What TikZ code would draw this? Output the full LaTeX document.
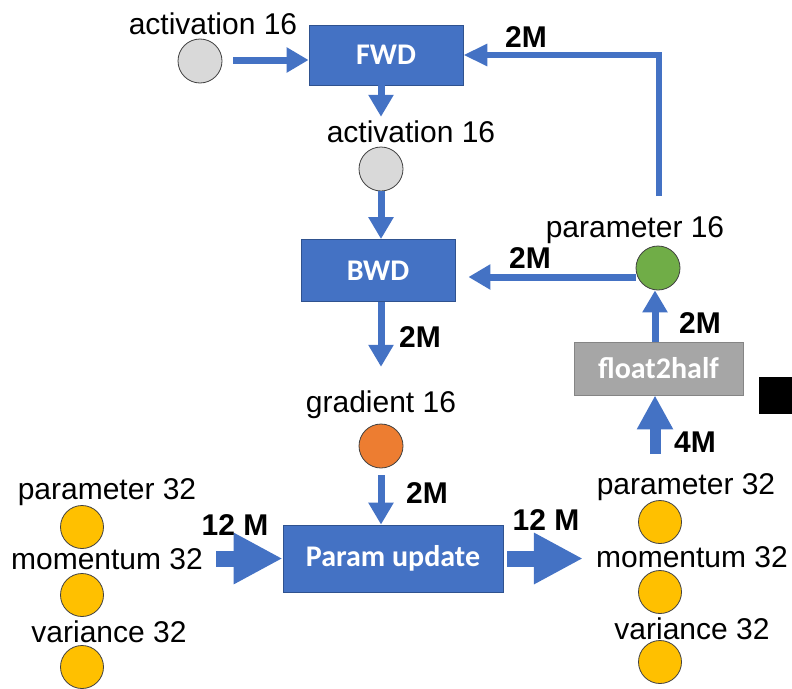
\documentclass[tikz,border=0pt]{standalone}
\usepackage{fontspec}
\setmainfont{Liberation Sans}
\newfontfamily\boxfont{Carlito}
\usetikzlibrary{arrows.meta}
\definecolor{flowblue}{HTML}{4472C4}
\definecolor{boxedge}{HTML}{2F528F}
\definecolor{halfgray}{HTML}{A6A6A6}
\definecolor{actgray}{HTML}{D9D9D9}
\definecolor{paramgreen}{HTML}{70AD47}
\definecolor{gradorange}{HTML}{ED7D31}
\definecolor{stateyellow}{HTML}{FFC000}
\begin{document}
\begin{tikzpicture}[x=1pt,y=-1pt,
  proc/.style={draw=boxedge, line width=0.8pt, fill=flowblue, text=white,
    font=\boxfont\bfseries\fontsize{30}{31}\selectfont, inner sep=0},
  castbox/.style={proc, draw=halfgray!80!black, fill=halfgray},
  tensor/.style={circle, draw=black!75, line width=0.8pt, minimum size=44pt, inner sep=0},
  statedot/.style={tensor, fill=stateyellow, minimum size=43pt},
  lbl/.style={font=\fontsize{30}{31}\selectfont, inner sep=0},
  qty/.style={font=\bfseries\fontsize{30}{31}\selectfont, inner sep=0},
  flow/.style={draw=flowblue, line width=7pt, -{Triangle[width=24pt,length=22pt]}},
  thinflow/.style={draw=flowblue, line width=6.5pt, -{Triangle[width=21pt,length=24pt]}},
  midflow/.style={draw=flowblue, line width=11pt, -{Triangle[width=34pt,length=34pt]}},
  bigflow/.style={draw=flowblue, line width=16pt, -{Triangle[width=48pt,length=49pt]}}]
\useasboundingbox (0,0) rectangle (792,688);

% compute blocks
\node[proc, minimum width=154pt, minimum height=60pt] (fwd) at (386,55) {FWD};
\node[proc, minimum width=154pt, minimum height=62pt] (bwd) at (378,270.5) {BWD};
\node[proc, minimum width=220pt, minimum height=67pt] (upd) at (393,558.5) {Param update};
\node[castbox, minimum width=169pt, minimum height=53pt] (f2h) at (658.5,368.5) {float2half};

% fp16 tensors
\node[tensor, fill=actgray] (act0) at (200,61) {};
\node[lbl] (act0lbl) at (213,24) {activation 16};
\node[tensor, fill=actgray] (act1) at (381,169) {};
\node[lbl] (act1lbl) at (411,132) {activation 16};
\node[tensor, fill=gradorange] (grad) at (381,446) {};
\node[lbl] (gradlbl) at (381,405) {gradient 16};
\node[tensor, fill=paramgreen] (p16) at (658,268) {};
\node[lbl] (p16lbl) at (635,230) {parameter 16};

% fp32 optimizer state, input side
\node[statedot] (p32a) at (82,527) {};
\node[lbl] (p32albl) at (107,492) {parameter 32};
\node[statedot] (m32a) at (82,595) {};
\node[lbl] (m32albl) at (107,559) {momentum 32};
\node[statedot] (v32a) at (82,667) {};
\node[lbl] (v32albl) at (109,632) {variance 32};

% fp32 optimizer state, output side
\node[statedot] (p32b) at (660,522) {};
\node[lbl] (p32blbl) at (686,487) {parameter 32};
\node[statedot] (m32b) at (660,592) {};
\node[lbl] (m32blbl) at (692,557) {momentum 32};
\node[statedot] (v32b) at (660,662) {};
\node[lbl] (v32blbl) at (692,629) {variance 32};

% data movement
\draw[flow, shorten <=11pt] (act0.east |- 0,60) coordinate (a0s) -- (a0s -| fwd.west);
\draw[flow, shorten >=4pt] (act1 |- fwd.south) -- (act1 |- act1lbl.north);
\draw[flow, shorten <=0pt] (act1.south) -- (act1.south |- bwd.north);
\draw[flow, shorten >=24pt] (grad |- bwd.south) -- (grad |- gradlbl.north);
\draw[flow, shorten <=7pt] (grad.south) -- (grad.south |- upd.north);
\draw[bigflow, shorten <=13pt] (m32albl.east |- upd.west) -- (upd.west);
\draw[bigflow, shorten <=4pt, shorten >=13pt] (upd.east) -- (m32blbl.west |- upd.east);
\draw[midflow] (655,454) coordinate (h4s) -- (h4s |- f2h.south);
\draw[flow] (f2h.north -| 655,0) coordinate (h2s) -- (h2s |- p16.south);
\draw[flow, shorten <=0pt, shorten >=13pt] (p16.west |- 0,277) coordinate (bs) -- (bs -| bwd.east);
\coordinate (corner) at (659,55);
\draw[thinflow] (p16lbl.north -| corner) ++(0,-20) -- (corner) -- (fwd.east);

% transfer sizes
\node[qty] (q1) at (526,37) {2M};
\node[qty] (q2) at (530,258) {2M};
\node[qty] (q3) at (420,337) {2M};
\node[qty] (q4) at (427,493) {2M};
\node[qty] (q5) at (700,323) {2M};
\node[qty] (q6) at (695,442) {4M};
\node[qty] (q7) at (235,525) {12 M};
\node[qty] (q8) at (546,520) {12 M};

% marker at the right edge
\fill (759,377) rectangle (792,414);
\end{tikzpicture}
\end{document}
